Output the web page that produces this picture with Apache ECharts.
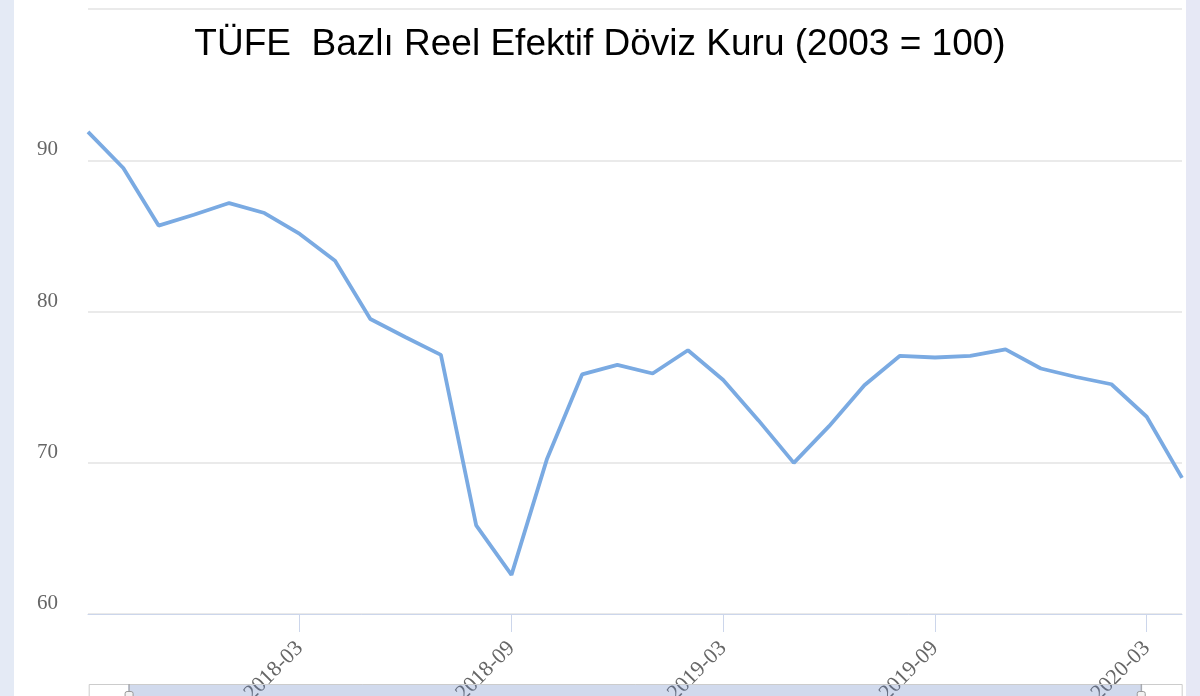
<!DOCTYPE html>
<html>
<head>
<meta charset="utf-8">
<script src="https://cdn.jsdelivr.net/npm/echarts@6/dist/echarts.min.js"></script>
<style>
html,body{margin:0;padding:0;background:#fff;}
#chart{width:1200px;height:696px;}
</style>
</head>
<body>
<div id="chart"></div>
<script>
var titleText = 'TÜFE  Bazlı Reel Efektif Döviz Kuru (2003 = 100)';
var months = ['2017-09','2017-10','2017-11','2017-12','2018-01','2018-02','2018-03','2018-04',
  '2018-05','2018-06','2018-07','2018-08','2018-09','2018-10','2018-11','2018-12',
  '2019-01','2019-02','2019-03','2019-04','2019-05','2019-06','2019-07','2019-08',
  '2019-09','2019-10','2019-11','2019-12','2020-01','2020-02','2020-03','2020-04'];
var reerValues = [91.88,89.49,85.68,86.4,87.17,86.51,85.13,83.36,
  79.5,78.3,77.13,65.86,62.59,70.21,75.84,76.47,
  75.9,77.44,75.47,72.8,69.99,72.42,75.12,77.06,
  76.96,77.06,77.5,76.23,75.67,75.19,73.04,69.0];
var yTicks = {min: 60, max: 100, interval: 10};

var chart = echarts.init(document.getElementById('chart'), null, {renderer: 'canvas'});
chart.setOption({
  animation: false,
  backgroundColor: '#ffffff',
  title: {
    text: titleText,
    left: 'center',
    top: 21,
    textStyle: {fontFamily: 'Liberation Sans', fontSize: 37, fontWeight: 'normal', color: '#000'}
  },
  graphic: [
    {type: 'rect', shape: {x: 0, y: 0, width: 14, height: 696}, style: {fill: '#e4eaf5'}, silent: true},
    {type: 'rect', shape: {x: 1186, y: 0, width: 14, height: 696}, style: {fill: '#e6e8f5'}, silent: true}
  ],
  grid: [
    {left: 88, right: 18, top: 9, bottom: 82, containLabel: false, outerBoundsMode: 'none'},
    {left: 88, right: 18, top: 684, height: 40, outerBoundsMode: 'none'}
  ],
  xAxis: [
    {
      type: 'category',
      gridIndex: 0,
      data: months,
      boundaryGap: false,
      axisLine: {lineStyle: {color: '#ccd6eb', width: 1}},
      axisTick: {
        length: 18,
        lineStyle: {color: '#ccd6eb'},
        interval: function (i) { return i > 0 && i % 6 === 0; }
      },
      axisLabel: {
        rotate: 45,
        margin: 31,
        fontFamily: 'Liberation Serif',
        fontSize: 22,
        color: '#666',
        interval: function (i) { return i > 0 && i % 6 === 0; }
      },
      splitLine: {show: false}
    },
    {
      type: 'value',
      gridIndex: 1,
      min: 0,
      max: 100,
      show: false
    }
  ],
  yAxis: [
    {
      type: 'value',
      gridIndex: 0,
      min: yTicks.min,
      max: yTicks.max,
      interval: yTicks.interval,
      axisLine: {show: false},
      axisTick: {show: false},
      axisLabel: {
        margin: 30,
        fontFamily: 'Liberation Serif',
        fontSize: 21,
        color: '#666',
        verticalAlign: 'bottom',
        showMaxLabel: false
      },
      splitLine: {lineStyle: {color: '#e3e3e3', width: 1.5}}
    },
    {type: 'value', gridIndex: 1, show: false, min: 0, max: 1}
  ],
  dataZoom: [{
    type: 'slider',
    xAxisIndex: 1,
    filterMode: 'none',
    left: 88,
    right: 18,
    top: 684,
    height: 40,
    start: 3.6,
    end: 96.3,
    showDataShadow: false,
    showDetail: false,
    brushSelect: false,
    backgroundColor: 'rgba(0,0,0,0)',
    borderColor: '#cccccc',
    fillerColor: 'rgba(102,133,194,0.3)',
    handleSize: '100%',
    handleStyle: {color: '#f2f2f2', borderColor: '#999999'},
    moveHandleSize: 0
  }],
  series: [{
    type: 'line',
    xAxisIndex: 0,
    yAxisIndex: 0,
    data: reerValues,
    showSymbol: false,
    symbol: 'none',
    lineStyle: {color: '#7aaae2', width: 3.8},
    z: 3
  }]
});
</script>
</body>
</html>
